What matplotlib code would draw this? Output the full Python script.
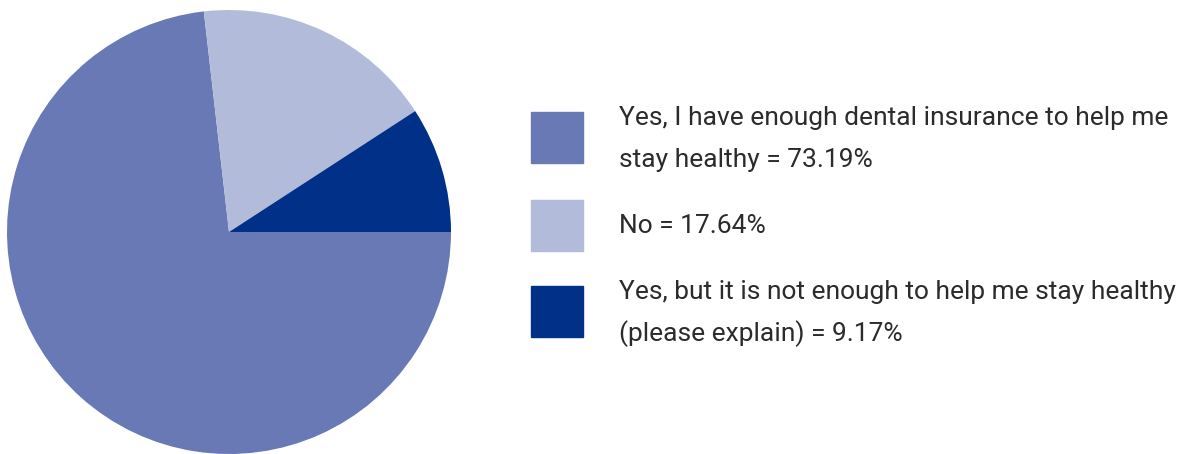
import matplotlib.pyplot as plt
from matplotlib.patches import Rectangle

# Survey answers and their shares (%)
labels = ['Yes, I have enough dental insurance to help me\nstay healthy = 73.19%',
          'No = 17.64%',
          'Yes, but it is not enough to help me stay healthy\n(please explain) = 9.17%']
shares = [73.19, 17.64, 9.17]
colors = ['#6879b5', '#b3bbdb', '#003087']

plt.rcParams['font.family'] = ['Roboto', 'DejaVu Sans']

fig = plt.figure(figsize=(11.94, 4.54), dpi=100)
W, H = 1194, 454

# pie: centre ~ (229, 232), radius ~222 px
ax = fig.add_axes([7 / W, (H - 454) / H, 444 / W, 444 / H])
ax.pie(shares, colors=colors, startangle=0, counterclock=False,
       wedgeprops={'linewidth': 0})
ax.set_xlim(-1, 1)
ax.set_ylim(-1, 1)
ax.set_aspect('equal')
ax.axis('off')

# legend drawn by hand: squares plus wrapped labels
box_tops = [112, 200, 286]
for top, lab, col in zip(box_tops, labels, colors):
    fig.patches.append(Rectangle((531 / W, 1 - (top + 51) / H), 52 / W, 51 / H,
                                 transform=fig.transFigure, color=col))
    n = lab.count('\n') + 1
    first_y = top + 6 if n > 1 else top + 26
    for i, line in enumerate(lab.split('\n')):
        fig.text(619 / W, 1 - (first_y + 42 * i) / H, line, fontsize=19,
                 color='#2b2b2b', va='center', ha='left')

fig.savefig('out.png', dpi=100)
